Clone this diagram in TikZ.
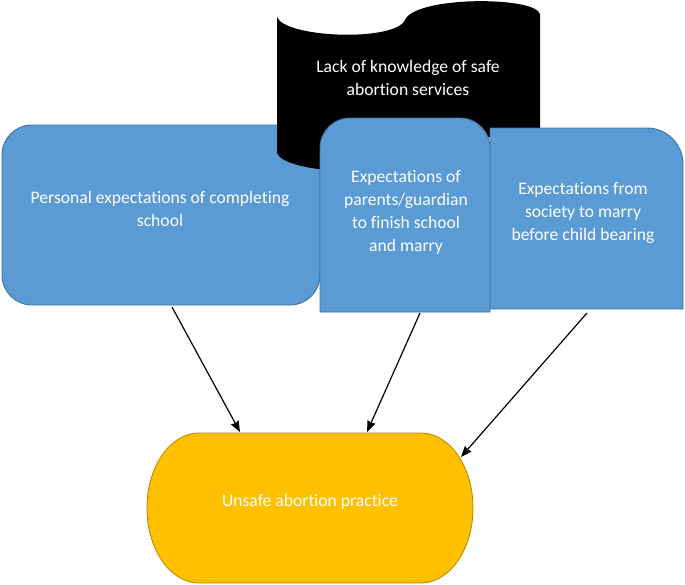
\documentclass[tikz,border=0pt]{standalone}
\usepackage{fontspec}
\setmainfont{Carlito}[Ligatures={NoCommon}]
\usetikzlibrary{arrows.meta,calc}
\definecolor{boxblue}{HTML}{5B9BD5}
\definecolor{boxedge}{HTML}{41719C}
\definecolor{termfill}{HTML}{FFC000}
\definecolor{termedge}{HTML}{BC8C00}
\begin{document}
\begin{tikzpicture}[x=1pt,y=-1pt,
  txt/.style={text=white, align=center, font=\fontsize{17.6}{23}\selectfont, inner sep=0pt},
  shapefill/.style={fill=boxblue, draw=boxedge, line width=0.9pt},
  termshape/.style={fill=termfill, draw=termedge, line width=0.9pt},
  arr/.style={-{Stealth[length=11pt,width=8.5pt,inset=1pt]}, line width=1.2pt, draw=black}]
\useasboundingbox (0,0) rectangle (685,584);

% box 1
\path[shapefill, rounded corners=30pt] (2,125) rectangle (320,305);
\node[txt] (b1) at (160,208.5) {Personal expectations of completing\\school};

% black wave
\fill[black] (277,17) .. controls (285,38) and (395,42) .. (405,20)
  .. controls (415,-4) and (535,-4) .. (540,14) -- (540,150)
  .. controls (535,132) and (415,132) .. (405,156)
  .. controls (395,178) and (285,174) .. (277,153) -- cycle;
\node[txt] (k) at (408,78) {Lack of knowledge of safe\\abortion services};

% box 3
\path[shapefill] (490,309) -- (490,128) -- (647,128)
  .. controls (666.9,128) and (683,144.1) .. (683,164) -- (683,309) -- cycle;
\node[txt] (b3) at (583,213) {Expectations from\\society to marry\\before child bearing};

% box 2
\path[shapefill] (320,312) -- (320,148) .. controls (320,131.4) and (333.4,118) .. (350,118)
  -- (460,118) .. controls (476.6,118) and (490,131.4) .. (490,148) -- (490,312) -- cycle;
\node[txt] (b2) at (406,212.5) {Expectations of\\parents/guardian\\to finish school\\and marry};

% terminator
\path[termshape] (199,433) -- (421,433) .. controls (449.7,433) and (473,466.6) .. (473,508)
  .. controls (473,549.4) and (449.7,583) .. (421,583) -- (199,583)
  .. controls (170.3,583) and (147,549.4) .. (147,508)
  .. controls (147,466.6) and (170.3,433) .. (199,433) -- cycle;
\node[txt] (u) at (310,502) {Unsafe abortion practice};

% connectors
\draw[arr] ($(b1.center)+(12,98.5)$) -- ($(u.center)+(-70,-70)$);
\draw[arr] ($(b2.center)+(14,100.5)$) -- ($(u.center)+(57,-70)$);
\draw[arr] ($(b3.center)+(4,100)$) -- ($(u.center)+(151,-45)$);
\end{tikzpicture}
\end{document}
